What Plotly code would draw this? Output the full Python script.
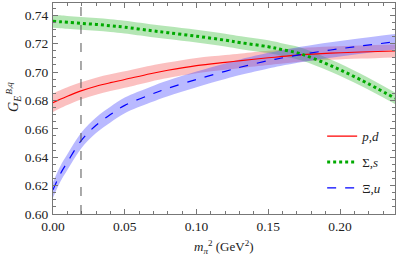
import plotly.graph_objects as go

# ---- data ----
mpi2 = [0.0, 0.005, 0.01, 0.0195, 0.03, 0.04, 0.05, 0.0678, 0.08, 0.10, 0.12,
        0.131, 0.15, 0.1585, 0.1725, 0.1935, 0.2144, 0.2383]

pd_val = [0.6784, 0.6808, 0.6830, 0.6867, 0.6900, 0.6925, 0.6947, 0.6988, 0.7012, 0.7045, 0.7068,
          0.7080, 0.7100, 0.7108, 0.7121, 0.7133, 0.7141, 0.7148]
pd_err = [0.0065, 0.0064, 0.0063, 0.0061, 0.0060, 0.0059, 0.0058, 0.0056, 0.0055, 0.0054, 0.0052,
          0.0051, 0.0050, 0.0049, 0.0048, 0.0047, 0.0046, 0.0045]

sig_val = [0.7357, 0.7354, 0.7350, 0.7343, 0.7335, 0.7326, 0.7316, 0.7292, 0.7277, 0.7252, 0.7224,
           0.7206, 0.7178, 0.7160, 0.7128, 0.7045, 0.6945, 0.6815]
sig_err = [0.0045, 0.0045, 0.0045, 0.0045, 0.0045, 0.0045, 0.0045, 0.0045, 0.0045, 0.0045, 0.0045,
           0.0045, 0.0045, 0.0045, 0.0045, 0.0043, 0.0042, 0.0040]

xi_val = [0.6170, 0.6280, 0.6365, 0.6515, 0.6625, 0.6700, 0.6765, 0.6840, 0.6885, 0.6948, 0.7005,
          0.7035, 0.7080, 0.7097, 0.7123, 0.7155, 0.7183, 0.7213]
xi_err = [0.0055, 0.0055, 0.0055, 0.0055, 0.0055, 0.0055, 0.0055, 0.0055, 0.0055, 0.0055, 0.0055,
          0.0055, 0.0055, 0.0055, 0.0055, 0.0055, 0.0055, 0.0055]

phys_mpi2 = 0.0195
x_ticks = [0.0, 0.05, 0.10, 0.15, 0.20]
x_ticklabels = ["0.00", "0.05", "0.10", "0.15", "0.20"]
y_ticks = [0.60, 0.62, 0.64, 0.66, 0.68, 0.70, 0.72, 0.74]
y_ticklabels = ["0.60", "0.62", "0.64", "0.66", "0.68", "0.70", "0.72", "0.74"]

series = [
    ("<i>p,d</i>", pd_val, pd_err, "rgb(255,0,0)", "rgba(245,90,90,0.38)", "solid", 1.1),
    ("Σ,<i>s</i>", sig_val, sig_err, "rgb(0,170,0)", "rgba(60,190,60,0.38)", "dot", 3.0),
    ("Ξ,<i>u</i>", xi_val, xi_err, "rgb(0,0,255)", "rgba(70,70,255,0.38)", "dash", 1.2),
]

fig = go.Figure()

# bands
for name, v, e, lc, fc, dash, w in series:
    lo = [a - b for a, b in zip(v, e)]
    hi = [a + b for a, b in zip(v, e)]
    fig.add_trace(go.Scatter(x=mpi2, y=lo, mode="lines", line=dict(width=0, shape="spline"),
                             showlegend=False, hoverinfo="skip"))
    fig.add_trace(go.Scatter(x=mpi2, y=hi, mode="lines", line=dict(width=0, shape="spline"),
                             fill="tonexty", fillcolor=fc, showlegend=False, hoverinfo="skip"))

# central lines
for i, (name, v, e, lc, fc, dash, w) in enumerate(series):
    fig.add_trace(go.Scatter(x=mpi2, y=v, mode="lines", name=name, legendgroup=str(i),
                             line=dict(color=lc, width=w, dash=dash, shape="spline")))

# physical point
fig.add_vline(x=phys_mpi2, line=dict(color="#555555", width=1, dash="dash"))

font_family = "Liberation Serif"
axis_common = dict(showline=True, linecolor="#777777", linewidth=1, mirror="allticks",
                   ticks="inside", ticklen=5, tickcolor="#777777", showgrid=False, zeroline=False,
                   tickfont=dict(family=font_family, size=13.5, color="#222222"))

fig.update_layout(
    width=399, height=258,
    margin=dict(l=53, r=4, t=3, b=44, autoexpand=False),
    plot_bgcolor="white", paper_bgcolor="white",
    xaxis=dict(range=[0, 0.2383], tickvals=x_ticks, ticktext=x_ticklabels,
               minor=dict(dtick=0.01, tick0=0, ticks="inside", ticklen=3, tickcolor="#777777"),
               ticklabelstandoff=0, automargin=False, **axis_common),
    yaxis=dict(range=[0.6, 0.7486], tickvals=y_ticks, ticktext=y_ticklabels,
               minor=dict(dtick=0.005, tick0=0.6, ticks="inside", ticklen=3, tickcolor="#777777"),
               ticklabelstandoff=1, automargin=False, **axis_common),
    legend=dict(x=0.787, y=0.44, xanchor="left", yanchor="top", bgcolor="rgba(0,0,0,0)",
                font=dict(family=font_family, size=13, color="#222222"),
                tracegroupgap=6, itemwidth=30),
    showlegend=True,
)

# axis titles
fig.add_annotation(text="<i>m</i><sub><i>π</i></sub><sup>2</sup> (GeV<sup>2</sup>)",
                   xref="paper", yref="paper", x=0.5, y=-0.208, xanchor="center", yanchor="bottom",
                   showarrow=False, font=dict(family=font_family, size=13, color="#222222"))
fig.add_annotation(text="<i>G</i><sub><i>E</i></sub>", textangle=-90,
                   xref="paper", yref="paper", x=-0.112, y=0.52, xanchor="center", yanchor="middle",
                   showarrow=False, font=dict(family=font_family, size=14, color="#222222"))
fig.add_annotation(text="<i>B,q</i>", textangle=-90,
                   xref="paper", yref="paper", x=-0.13, y=0.597, xanchor="center", yanchor="middle",
                   showarrow=False, font=dict(family=font_family, size=9, color="#222222"))

fig.write_html("out.html", config={"displayModeBar": False},
               post_script="document.body.style.margin='0';")
